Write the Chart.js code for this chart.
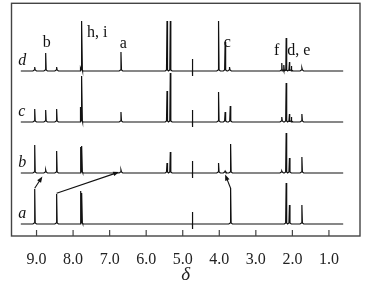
<!DOCTYPE html>
<html>
<head>
<meta charset="utf-8">
<script src="https://cdn.jsdelivr.net/npm/chart.js@4.4.1/dist/chart.umd.min.js"></script>
<style>
  html, body { margin: 0; padding: 0; background: #fff; }
  #box { width: 367px; height: 286px; position: relative; }
</style>
</head>
<body>
<div id="box"><canvas id="nmr"></canvas></div>
<script>
// chemical shift ticks (ppm)
const tickValues = [9, 8, 7, 6, 5, 4, 3, 2, 1];
const traceNames = ["a", "b", "c", "d"];
const traceOffsets = [12, 63, 114, 165];
const traceRange = [9.43, 0.61];
const breakShift = 4.73;

// peaks: shift (ppm) and height
const aShifts  = [9.05, 8.45, 7.785, 7.76, 3.69, 2.17, 2.08, 1.74];
const aHeights = [35, 30, 33, 31, 36, 41, 19, 19];
const bShifts  = [9.05, 8.75, 8.45, 7.785, 7.76, 6.69, 5.43, 5.34, 4.02, 3.84, 3.69, 2.29, 2.17, 2.08, 1.74];
const bHeights = [28, 3, 22, 26, 27, 3, 10, 21, 10, 2, 29, 2, 40, 15, 16];
const cShifts  = [9.05, 8.75, 8.45, 7.79, 7.76, 6.69, 5.43, 5.34, 4.02, 3.84, 3.70, 2.29, 2.17, 2.08, 2.03, 1.74];
const cHeights = [13, 12, 13, 15, 46, 10, 31, 49, 30, 10, 16, 5, 39, 8, 5, 8];
const dShifts  = [9.05, 8.75, 8.45, 7.79, 7.76, 6.69, 5.43, 5.34, 4.02, 3.84, 3.72, 2.29, 2.23, 2.17, 2.08, 2.03, 1.74];
const dHeights = [4, 18, 4, 3, 50, 19, 50, 50, 50, 29, 4, 8, 6, 33, 9, 5, 3];

// peak assignments on trace d
const peakLabels = ["b", "h, i", "a", "c", "f", "d, e"];
const peakLabelShifts = [8.83, 7.62, 6.72, 3.88, 2.50, 2.14];
const peakLabelLevels = [189, 199, 188, 189.5, 181, 181];

// arrows a -> b
const arrowFrom = [[9.05, 47.7], [8.45, 42.7], [3.69, 47.7]];
const arrowTo   = [[8.84, 59.5], [6.74, 64], [3.84, 61.5]];

function buildTrace(shifts, heights, offset) {
  const pts = [{x: traceRange[0], y: offset}];
  shifts.forEach((s, i) => {
    pts.push({x: s + 0.05, y: offset}, {x: s + 0.014, y: offset + 1},
             {x: s, y: offset + heights[i]},
             {x: s - 0.014, y: offset + 1}, {x: s - 0.05, y: offset});
  });
  pts.push({x: breakShift + 0.004, y: offset}, {x: breakShift + 0.004, y: offset + 12},
           {x: breakShift, y: offset - 5}, {x: breakShift, y: offset});
  pts.push({x: traceRange[1], y: offset});
  pts.sort((p, q) => q.x - p.x);
  return pts;
}

const traces = [
  buildTrace(aShifts, aHeights, traceOffsets[0]),
  buildTrace(bShifts, bHeights, traceOffsets[1]),
  buildTrace(cShifts, cHeights, traceOffsets[2]),
  buildTrace(dShifts, dHeights, traceOffsets[3])
];

function drawArrow(ctx, x0, y0, x1, y1) {
  const ang = Math.atan2(y1 - y0, x1 - x0);
  const c = Math.cos(ang), s = Math.sin(ang);
  const len = 6, w = 2.3;
  ctx.beginPath();
  ctx.moveTo(x0, y0);
  ctx.lineTo(x1 - c * len * 0.7, y1 - s * len * 0.7);
  ctx.stroke();
  ctx.beginPath();
  ctx.moveTo(x1, y1);
  ctx.lineTo(x1 - c * len - s * w, y1 - s * len + c * w);
  ctx.lineTo(x1 - c * len + s * w, y1 - s * len - c * w);
  ctx.closePath();
  ctx.fill();
}

const decor = {
  id: 'decor',
  afterDraw(chart) {
    const {ctx, chartArea: ca, scales: {x, y}} = chart;
    ctx.save();
    ctx.strokeStyle = '#444';
    ctx.lineWidth = 1.4;
    ctx.strokeRect(ca.left, ca.top, ca.right - ca.left, ca.bottom - ca.top);

    ctx.lineWidth = 1.2;
    tickValues.forEach(v => {
      const px = x.getPixelForValue(v);
      ctx.beginPath();
      ctx.moveTo(px, ca.bottom);
      ctx.lineTo(px, ca.bottom - 6);
      ctx.stroke();
    });

    ctx.strokeStyle = '#111';
    ctx.fillStyle = '#111';
    ctx.lineWidth = 1.1;
    arrowFrom.forEach((f, i) => {
      const t = arrowTo[i];
      drawArrow(ctx, x.getPixelForValue(f[0]), y.getPixelForValue(f[1]),
                x.getPixelForValue(t[0]), y.getPixelForValue(t[1]));
    });

    ctx.textAlign = 'left';
    ctx.textBaseline = 'alphabetic';
    ctx.font = 'italic 16px "Liberation Serif"';
    traceNames.forEach((n, i) => {
      ctx.fillText(n, x.getPixelForValue(9.50), y.getPixelForValue(traceOffsets[i] + 6.5));
    });

    ctx.font = '16px "Liberation Serif"';
    peakLabels.forEach((t, i) => {
      ctx.fillText(t, x.getPixelForValue(peakLabelShifts[i]), y.getPixelForValue(peakLabelLevels[i]));
    });
    ctx.restore();
  }
};

new Chart(document.getElementById('nmr'), {
  type: 'line',
  data: {
    datasets: traces.map((pts, i) => ({
      label: traceNames[i],
      data: pts,
      borderColor: '#111',
      borderWidth: 1.2,
      pointRadius: 0,
      tension: 0,
      fill: false
    }))
  },
  options: {
    animation: false,
    responsive: true,
    maintainAspectRatio: false,
    devicePixelRatio: 1,
    layout: { padding: { left: 11.5, right: 7, top: 3.3, bottom: 0 } },
    plugins: { legend: { display: false }, tooltip: { enabled: false } },
    scales: {
      x: {
        type: 'linear',
        reverse: true,
        min: 0.15,
        max: 9.685,
        afterBuildTicks: s => { s.ticks = tickValues.map(v => ({ value: v })); },
        afterFit: s => { s.height = 50; },
        grid: { display: false },
        border: { display: false },
        ticks: {
          font: { family: 'Liberation Serif', size: 16 },
          color: '#222',
          padding: 6,
          maxRotation: 0,
          autoSkip: false,
          callback: v => v.toFixed(1)
        },
        title: {
          display: true,
          text: 'δ',
          color: '#222',
          font: { family: 'Liberation Serif', size: 19, style: 'italic' },
          padding: { top: 0, bottom: 0 }
        }
      },
      y: { display: false, min: 0, max: 232.7 }
    }
  },
  plugins: [decor]
});
</script>
</body>
</html>
